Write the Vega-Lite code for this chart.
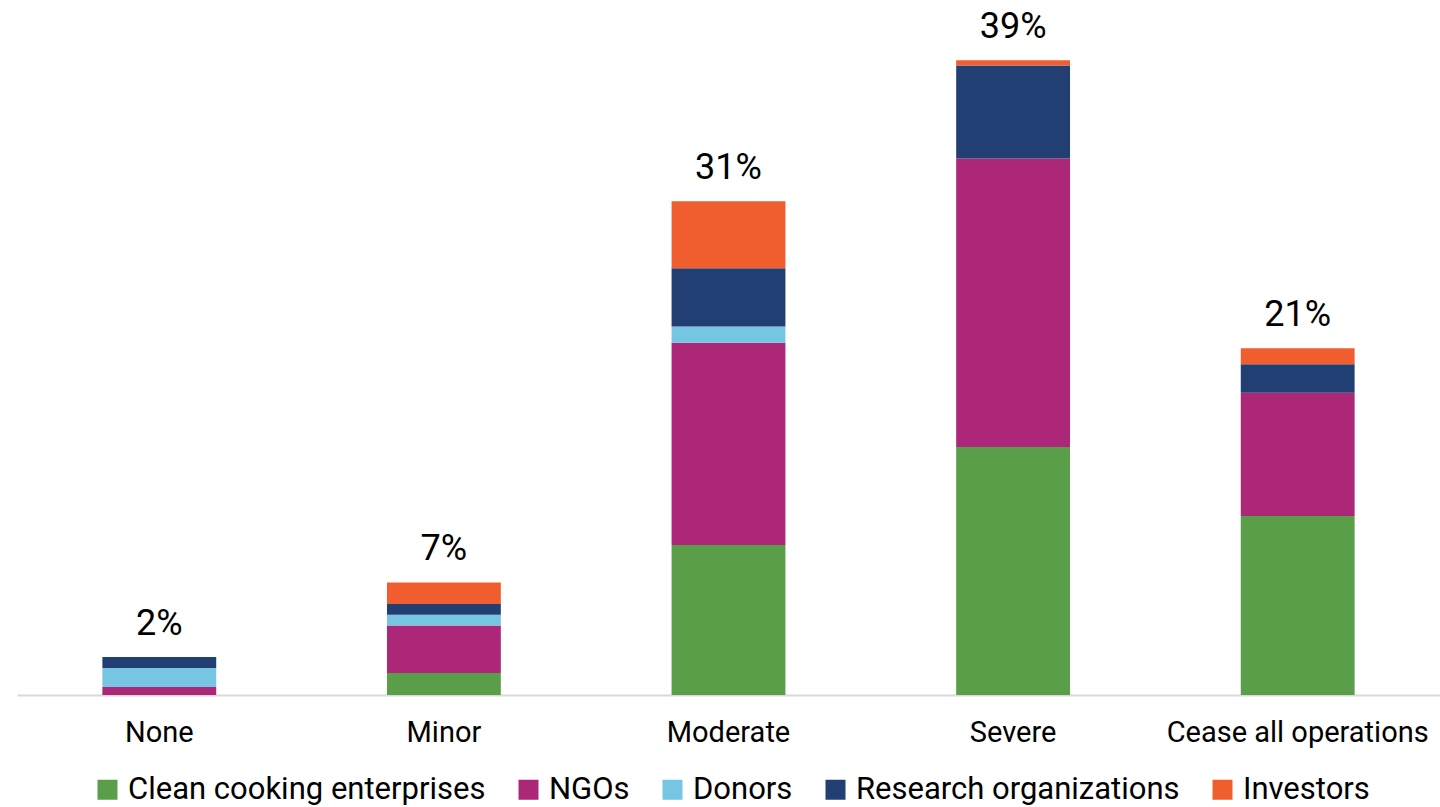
{
  "$schema": "https://vega.github.io/schema/vega-lite/v6.json",
  "width": 1423,
  "height": 647,
  "autosize": "none",
  "padding": {"left": 17, "top": 48, "right": 0, "bottom": 112},
  "background": "white",
  "config": {"font": "Roboto", "view": {"stroke": null}},
  "datasets": {
    "segments": [
      {"category": "None", "group": "NGOs", "value": 0.49, "order": 2},
      {"category": "None", "group": "Donors", "value": 1.18, "order": 3},
      {"category": "None", "group": "Research organizations", "value": 0.68, "order": 4},
      {"category": "Minor", "group": "Clean cooking enterprises", "value": 1.36, "order": 1},
      {"category": "Minor", "group": "NGOs", "value": 2.94, "order": 2},
      {"category": "Minor", "group": "Donors", "value": 0.66, "order": 3},
      {"category": "Minor", "group": "Research organizations", "value": 0.66, "order": 4},
      {"category": "Minor", "group": "Investors", "value": 1.34, "order": 5},
      {"category": "Moderate", "group": "Clean cooking enterprises", "value": 9.28, "order": 1},
      {"category": "Moderate", "group": "NGOs", "value": 12.49, "order": 2},
      {"category": "Moderate", "group": "Donors", "value": 1.01, "order": 3},
      {"category": "Moderate", "group": "Research organizations", "value": 3.61, "order": 4},
      {"category": "Moderate", "group": "Investors", "value": 4.14, "order": 5},
      {"category": "Severe", "group": "Clean cooking enterprises", "value": 15.34, "order": 1},
      {"category": "Severe", "group": "NGOs", "value": 17.83, "order": 2},
      {"category": "Severe", "group": "Research organizations", "value": 5.75, "order": 4},
      {"category": "Severe", "group": "Investors", "value": 0.33, "order": 5},
      {"category": "Cease all operations", "group": "Clean cooking enterprises", "value": 11.07, "order": 1},
      {"category": "Cease all operations", "group": "NGOs", "value": 7.61, "order": 2},
      {"category": "Cease all operations", "group": "Research organizations", "value": 1.77, "order": 4},
      {"category": "Cease all operations", "group": "Investors", "value": 0.99, "order": 5}
    ],
    "totals": [
      {"category": "None", "total": 2.35, "label": "2%"},
      {"category": "Minor", "total": 6.96, "label": "7%"},
      {"category": "Moderate", "total": 30.53, "label": "31%"},
      {"category": "Severe", "total": 39.25, "label": "39%"},
      {"category": "Cease all operations", "total": 21.44, "label": "21%"}
    ]
  },
  "encoding": {
    "x": {
      "field": "category",
      "type": "nominal",
      "sort": ["None", "Minor", "Moderate", "Severe", "Cease all operations"],
      "scale": {"paddingInner": 0.6, "paddingOuter": 0.3},
      "axis": {
        "title": null,
        "labelAngle": 0,
        "ticks": false,
        "domainColor": "#D9D9D9",
        "domainWidth": 2,
        "labelFontSize": 29,
        "labelColor": "#000000",
        "labelPadding": 23,
        "labelLimit": 600
      }
    }
  },
  "layer": [
    {
      "data": {"name": "segments"},
      "mark": {"type": "bar", "stroke": null},
      "encoding": {
        "y": {
          "field": "value",
          "type": "quantitative",
          "stack": "zero",
          "scale": {"domain": [0, 40], "nice": false},
          "axis": null
        },
        "color": {
          "field": "group",
          "type": "nominal",
          "scale": {
            "domain": ["Clean cooking enterprises", "NGOs", "Donors", "Research organizations", "Investors"],
            "range": ["#5A9E4A", "#AC2777", "#75C5E3", "#213F73", "#F05E30"]
          },
          "legend": {
            "title": null,
            "orient": "none",
            "legendX": 75,
            "legendY": 726,
            "direction": "horizontal",
            "symbolType": "square",
            "symbolSize": 400,
            "symbolStrokeWidth": 0,
            "symbolOpacity": 1,
            "labelFontSize": 31,
            "labelColor": "#000000",
            "labelOffset": 5,
            "columnPadding": 27,
            "labelLimit": 600
          }
        },
        "order": {"field": "order", "type": "quantitative"}
      }
    },
    {
      "data": {"name": "totals"},
      "mark": {"type": "text", "fontSize": 36, "color": "#000000", "baseline": "alphabetic", "dy": -22},
      "encoding": {
        "y": {"field": "total", "type": "quantitative"},
        "text": {"field": "label"}
      }
    }
  ]
}
